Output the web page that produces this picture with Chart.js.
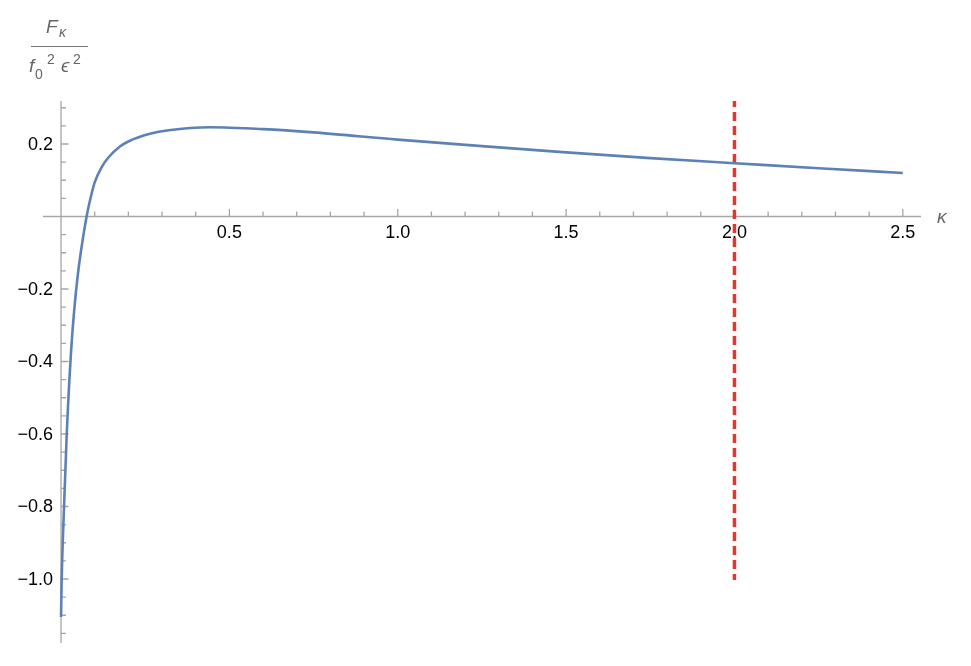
<!DOCTYPE html>
<html>
<head>
<meta charset="utf-8">
<script src="https://cdn.jsdelivr.net/npm/chart.js@4"></script>
<style>
  html, body { margin: 0; padding: 0; background: #fff; }
  #wrap { width: 971px; height: 666px; }
</style>
</head>
<body>
<div id="wrap"><canvas id="plot"></canvas></div>
<script>
// curve
var kappaValues = [0, 0.002, 0.009, 0.017, 0.029, 0.04, 0.05, 0.061, 0.076, 0.085,
  0.1, 0.12, 0.14, 0.175, 0.2, 0.264, 0.32, 0.443, 0.6, 0.75, 1.0, 1.25, 1.5, 1.75, 2.0, 2.25, 2.5];
var fValues = [-1.105, -1.0, -0.8, -0.6, -0.385, -0.25, -0.16, -0.085, 0, 0.04,
  0.094, 0.135, 0.162, 0.193, 0.207, 0.228, 0.238, 0.246, 0.241, 0.232, 0.212, 0.194, 0.177, 0.161, 0.147, 0.133, 0.12];

// red dashed marker at kappa = 2
var markerX = [2.0, 2.0];
var markerY = [0.327, -1.003];

var xMajorTicks = [0.5, 1.0, 1.5, 2.0, 2.5];
var yMajorTicks = [0.2, -0.2, -0.4, -0.6, -0.8, -1.0];

var axisColor = "#a6a6a6";

function pts(xs, ys) {
  return xs.map(function (x, i) { return { x: x, y: ys[i] }; });
}

const mathAxes = {
  id: "mathAxes",
  beforeDatasetsDraw(chart) {
    const c = chart.ctx;
    const xs = chart.scales.x, ys = chart.scales.y;
    const x0 = xs.getPixelForValue(0), y0 = ys.getPixelForValue(0);
    const a = chart.chartArea;
    c.save();
    c.strokeStyle = axisColor;
    c.lineWidth = 1.3;
    c.beginPath();
    c.moveTo(a.left, y0); c.lineTo(a.right, y0);
    c.moveTo(x0, a.top); c.lineTo(x0, a.bottom);
    c.stroke();

    // x ticks every 0.1, longer at 0.5
    c.beginPath();
    for (let i = 1; i <= 25; i++) {
      const px = xs.getPixelForValue(i / 10);
      const len = i % 5 === 0 ? 7.5 : 5;
      c.moveTo(px, y0); c.lineTo(px, y0 - len);
    }
    // y ticks every 0.05, longer at 0.2
    for (let j = -23; j <= 6; j++) {
      if (j === 0) continue;
      const py = ys.getPixelForValue(j * 0.05);
      const len = j % 4 === 0 ? 7.5 : 5;
      c.moveTo(x0, py); c.lineTo(x0 + len, py);
    }
    c.stroke();

    c.fillStyle = "#000";
    c.font = "18px 'Liberation Sans', Arial, sans-serif";
    c.textAlign = "center";
    c.textBaseline = "middle";
    xMajorTicks.forEach(function (v) {
      c.fillText(v.toFixed(1), xs.getPixelForValue(v), y0 + 17);
    });
    c.textAlign = "right";
    yMajorTicks.forEach(function (v) {
      const s = (v < 0 ? "\u2212" : "") + Math.abs(v).toFixed(1);
      c.fillText(s, x0 - 8, ys.getPixelForValue(v) + 1);
    });

    // axis labels
    c.fillStyle = "#666";
    c.textAlign = "left";
    c.textBaseline = "alphabetic";
    c.font = "italic 19px 'Liberation Sans', Arial, sans-serif";
    c.fillText("\u03ba", a.right + 16, y0 + 7);

    c.fillText("F", 46, 33);
    c.font = "italic 14px 'Liberation Sans', Arial, sans-serif";
    c.fillText("\u03ba", 59, 37);
    c.strokeStyle = "#777";
    c.lineWidth = 1.2;
    c.beginPath(); c.moveTo(31, 46.5); c.lineTo(88, 46.5); c.stroke();
    c.font = "italic 19px 'Liberation Sans', Arial, sans-serif";
    c.fillText("f", 29, 72);
    c.fillText("\u03f5", 61, 72);
    c.font = "14px 'Liberation Sans', Arial, sans-serif";
    c.fillText("0", 35, 79);
    c.fillText("2", 47, 64);
    c.fillText("2", 73, 64);
    c.restore();
  }
};

new Chart(document.getElementById("plot"), {
  type: "line",
  data: {
    datasets: [
      {
        label: "F",
        data: pts(kappaValues, fValues),
        borderColor: "#5e81b5",
        borderWidth: 2.6,
        pointRadius: 0,
        cubicInterpolationMode: "monotone",
        fill: false,
      },
      {
        label: "marker",
        data: pts(markerX, markerY),
        borderColor: "#e8352b",
        borderWidth: 3.5,
        borderDash: [9, 5],
        pointRadius: 0,
        fill: false,
      },
    ],
  },
  options: {
    responsive: true,
    maintainAspectRatio: false,
    animation: false,
    layout: { padding: { left: 43, right: 50, top: 101, bottom: 23 } },
    plugins: { legend: { display: false }, tooltip: { enabled: false } },
    scales: {
      x: { type: "linear", min: -0.0535, max: 2.554, display: false },
      y: { type: "linear", min: -1.1766, max: 0.3186, display: false },
    },
  },
  plugins: [mathAxes],
});
</script>
</body>
</html>
